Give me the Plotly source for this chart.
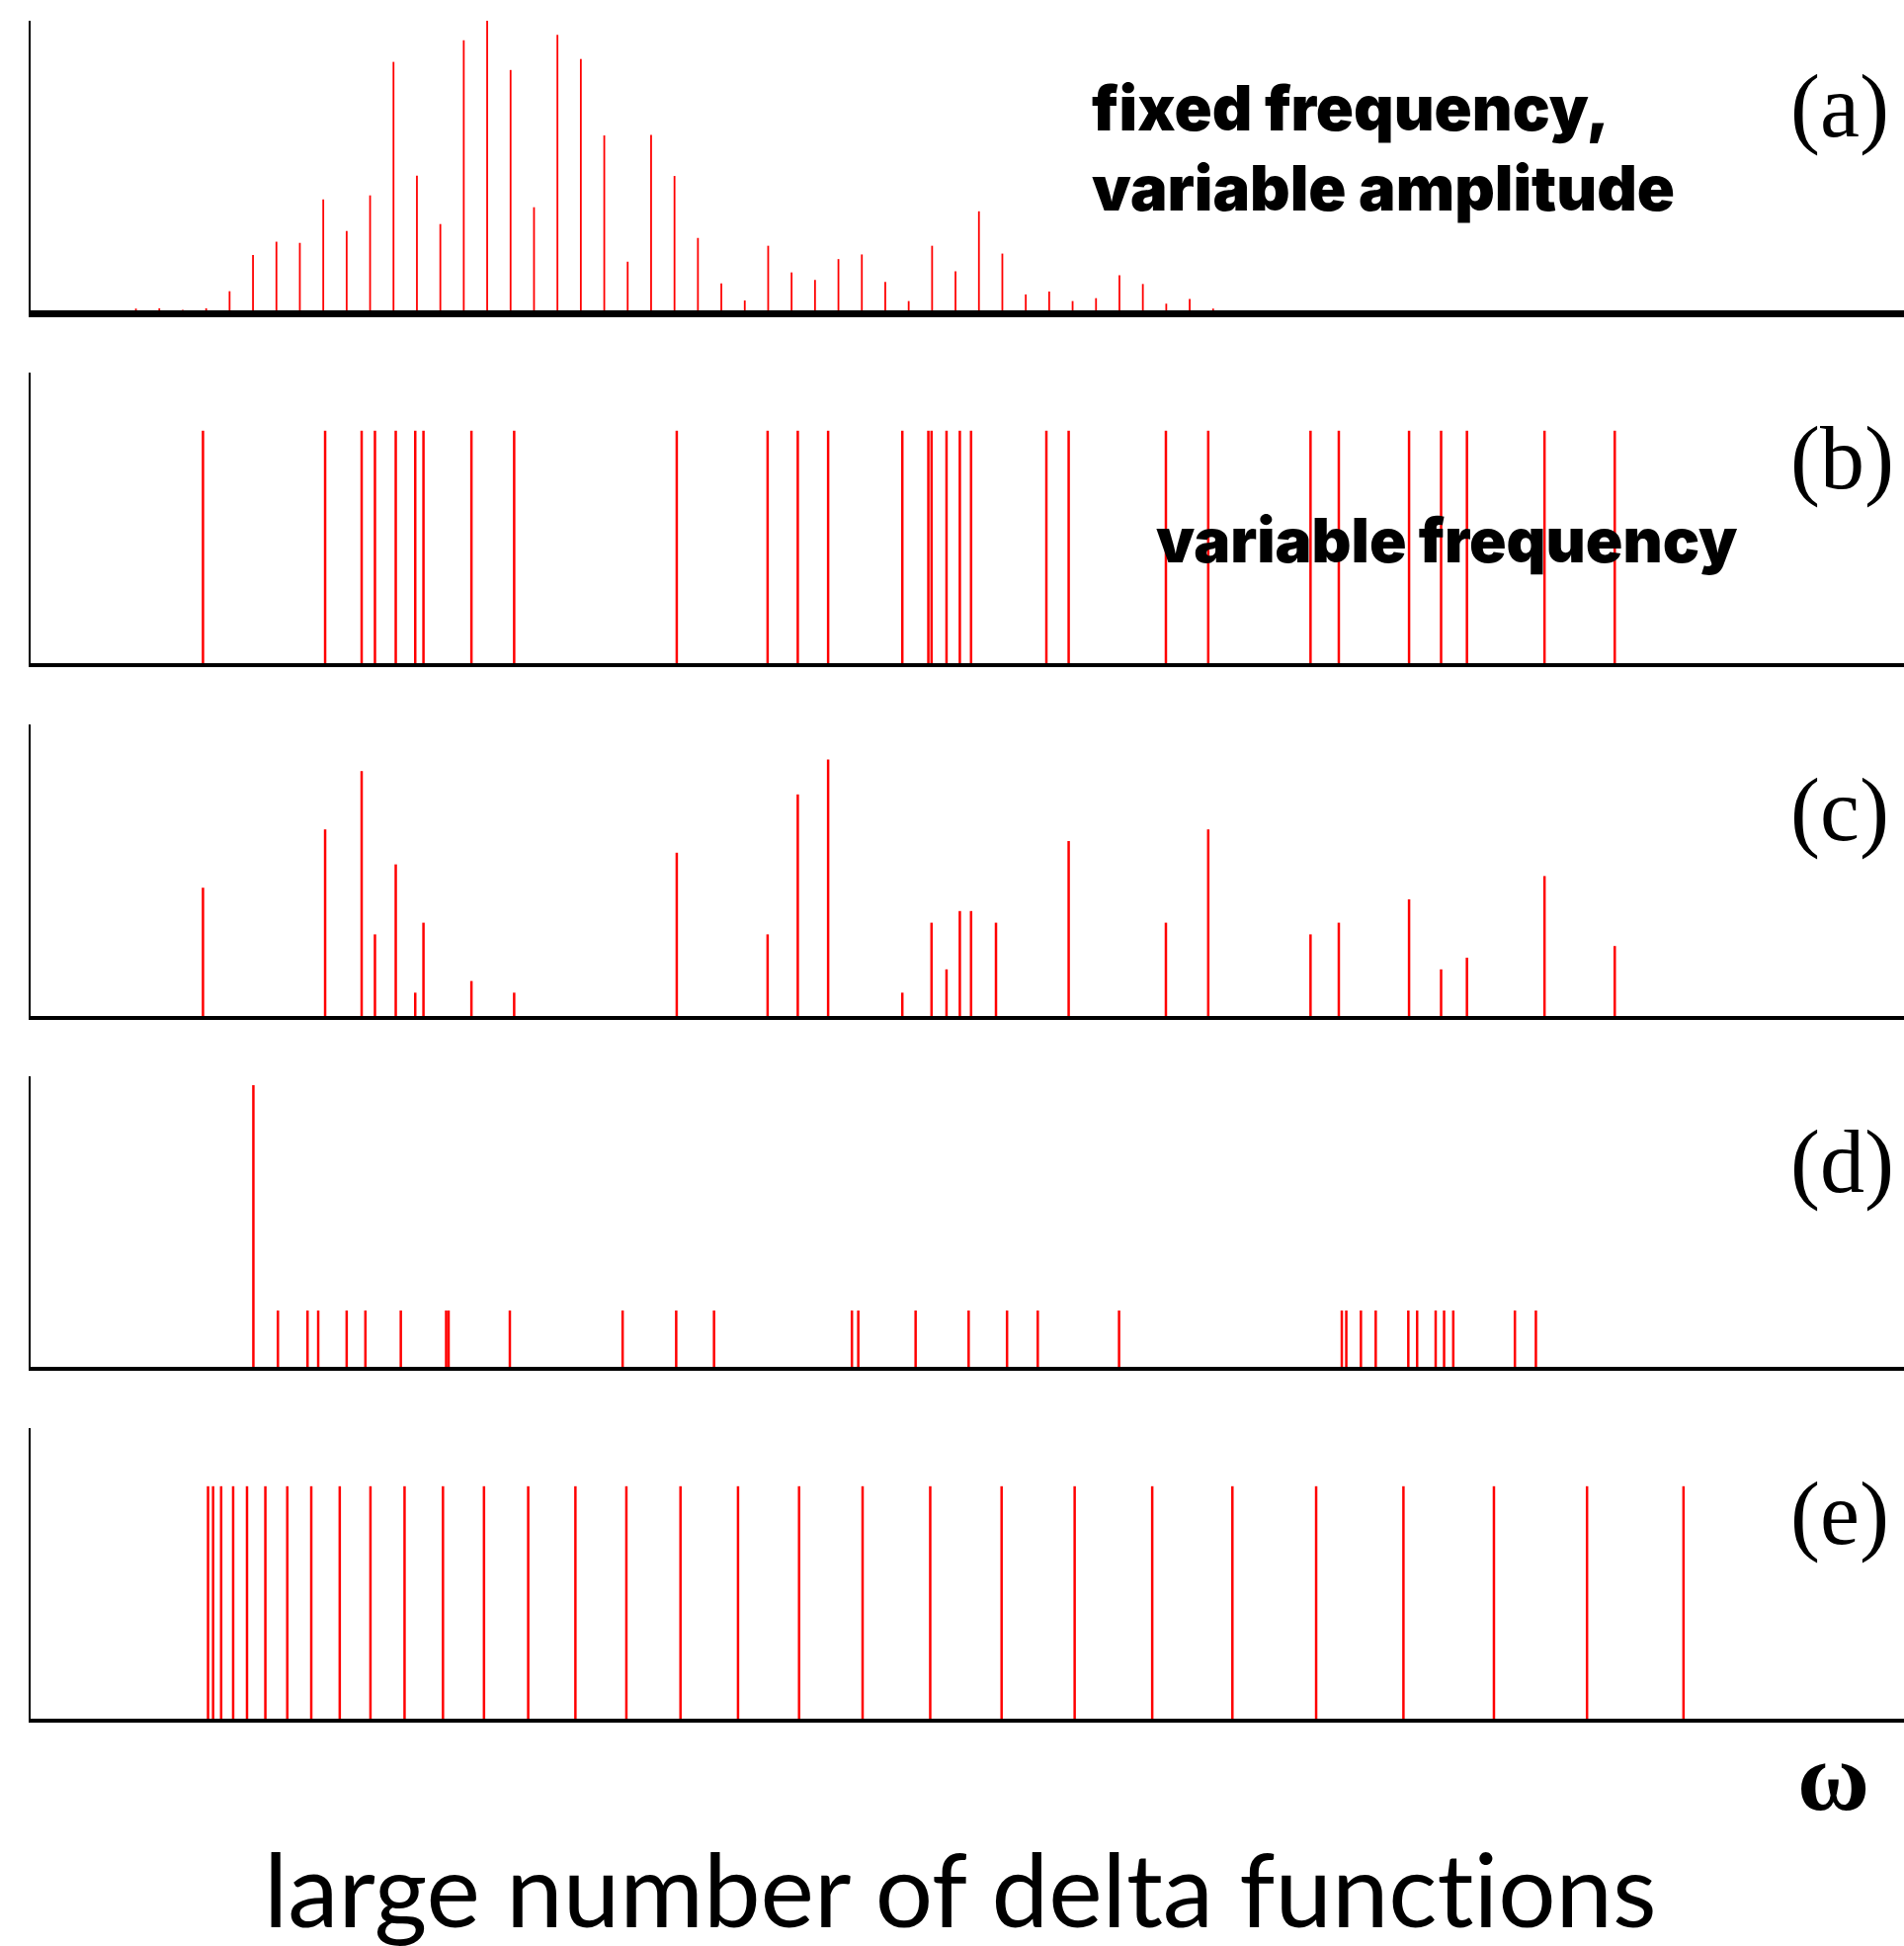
import plotly.graph_objects as go

W, H = 1927, 1969

# ---------------- data (omega on a 0..100 axis) ----------------
# (a) fixed frequency, variable amplitude
omega_a = [5.62, 6.87, 8.12, 9.37, 10.62, 11.87, 13.12, 14.37, 15.62, 16.87,
           18.12, 19.37, 20.62, 21.87, 23.12, 24.37, 25.62, 26.87, 28.12, 29.37,
           30.62, 31.87, 33.12, 34.37, 35.62, 36.87, 38.12, 39.37, 40.62, 41.87,
           43.12, 44.37, 45.62, 46.87, 48.12, 49.37, 50.62, 51.87, 53.12, 54.37,
           55.62, 56.87, 58.12, 59.37, 60.62, 61.87, 63.12]
amp_a = [0.006, 0.007, 0.002, 0.007, 0.066, 0.191, 0.237, 0.233, 0.383, 0.274,
         0.397, 0.858, 0.465, 0.298, 0.933, 1.0, 0.830, 0.356, 0.951, 0.868,
         0.604, 0.168, 0.606, 0.464, 0.250, 0.093, 0.034, 0.223, 0.131, 0.105,
         0.177, 0.193, 0.098, 0.032, 0.223, 0.135, 0.342, 0.196, 0.055, 0.065,
         0.032, 0.042, 0.121, 0.091, 0.023, 0.039, 0.006]

# (b) variable frequency, equal amplitude
omega_b = [9.20, 15.72, 17.67, 18.38, 19.49, 20.53, 20.97, 23.53, 25.81, 34.49,
           39.34, 40.95, 42.57, 46.53, 47.92, 48.09, 48.89, 49.60, 50.20, 54.22,
           55.41, 60.60, 62.86, 68.32, 69.83, 73.58, 75.29, 76.67, 80.81, 84.56]
amp_b = [1] * len(omega_b)

# (c) variable frequency, variable amplitude
omega_c = [9.20, 15.72, 17.67, 18.38, 19.49, 20.53, 20.97, 23.53, 25.81, 34.49,
           39.34, 40.95, 42.57, 46.53, 48.09, 48.89, 49.60, 50.20, 51.53, 55.41,
           60.60, 62.86, 68.32, 69.83, 73.58, 75.29, 76.67, 80.81, 84.56]
amp_c = [11, 16, 21, 7, 13, 2, 8, 3, 2, 14,
         7, 19, 22, 2, 8, 4, 9, 9, 8, 15,
         8, 16, 7, 8, 10, 4, 5, 12, 6]

# (d) one strong line and many weak ones
omega_d = [11.89, 13.20, 14.78, 15.35, 16.87, 17.87, 19.76, 22.18, 22.31, 25.58,
           31.60, 34.46, 36.48, 43.84, 44.18, 47.24, 50.07, 52.12, 53.76, 58.10,
           69.99, 70.23, 71.01, 71.80, 73.54, 74.01, 75.00, 75.45, 75.94, 79.23,
           80.35]
amp_d = [5] + [1] * (len(omega_d) - 1)

# (e) many equal lines
omega_e = [9.47, 9.74, 10.17, 10.81, 11.55, 12.53, 13.70, 14.98, 16.50, 18.14,
           19.96, 22.01, 24.20, 26.56, 29.08, 31.80, 34.69, 37.76, 41.02, 44.41,
           48.02, 51.83, 55.73, 59.87, 64.15, 68.62, 73.28, 78.11, 83.08, 88.23]
amp_e = [1] * len(omega_e)

panel_labels = ["(a)", "(b)", "(c)", "(d)", "(e)"]

# ---------------- layout helpers ----------------
def px_x(p):
    return p / W

def px_y(p):
    return 1 - p / H

panels = [
    dict(x=omega_a, y=amp_a, top=21, bottom=314, ymax=1.0, lw=1.8, axw=7),
    dict(x=omega_b, y=amp_b, top=377, bottom=671, ymax=1.25, lw=2.5, axw=3.5),
    dict(x=omega_c, y=amp_c, top=733, bottom=1028, ymax=25.0, lw=2.5, axw=3.5),
    dict(x=omega_d, y=amp_d, top=1089, bottom=1383, ymax=5.16, lw=2.5, axw=3.5),
    dict(x=omega_e, y=amp_e, top=1445, bottom=1739, ymax=1.25, lw=2.5, axw=3.5),
]

fig = go.Figure()
layout = dict(
    width=W, height=H, autosize=False,
    margin=dict(l=0, r=0, t=0, b=0),
    paper_bgcolor="white", plot_bgcolor="white",
    showlegend=False,
)

annotations = []
for i, p in enumerate(panels):
    n = "" if i == 0 else str(i + 1)
    xs, ys = [], []
    for xv, yv in zip(p["x"], p["y"]):
        xs += [xv, xv, None]
        ys += [0, yv, None]
    fig.add_trace(go.Scatter(
        x=xs, y=ys, mode="lines",
        line=dict(color="#ff0000", width=p["lw"]),
        xaxis="x" + n, yaxis="y" + n, hoverinfo="skip",
    ))
    layout["xaxis" + n] = dict(
        domain=[px_x(31), 1.0], range=[0, 100], anchor="y" + n,
        showline=True, linecolor="black", linewidth=p["axw"],
        showgrid=False, zeroline=False, showticklabels=False, ticks="",
    )
    layout["yaxis" + n] = dict(
        domain=[px_y(p["bottom"]), px_y(p["top"])], range=[0, p["ymax"]],
        anchor="x" + n,
        showline=True, linecolor="black", linewidth=2,
        showgrid=False, zeroline=False, showticklabels=False, ticks="",
    )
    annotations.append(dict(
        text=panel_labels[i], xref="paper", yref="paper",
        x=px_x(1810), y=px_y(p["top"] + 87), xanchor="left", yanchor="middle",
        showarrow=False,
        font=dict(family="Liberation Serif", size=90, color="black"),
    ))

bold = dict(family="Inter", size=63, color="black", weight=900)
annotations += [
    dict(text="fixed frequency,", xref="paper", yref="paper",
         x=px_x(1103), y=px_y(109), xanchor="left", yanchor="middle",
         showarrow=False, font=bold),
    dict(text="variable amplitude", xref="paper", yref="paper",
         x=px_x(1103), y=px_y(190), xanchor="left", yanchor="middle",
         showarrow=False, font=bold),
    dict(text="variable frequency", xref="paper", yref="paper",
         x=px_x(1168), y=px_y(546), xanchor="left", yanchor="middle",
         showarrow=False, font=dict(family="Inter", size=62, color="black", weight=900)),
    dict(text="ω", xref="paper", yref="paper",
         x=px_x(1855), y=px_y(1797), xanchor="center", yanchor="middle",
         showarrow=False,
         font=dict(family="Liberation Serif", size=100, color="black", weight=700)),
    dict(text="large number of delta funct\u200cions", xref="paper", yref="paper",
         x=px_x(972), y=px_y(1910), xanchor="center", yanchor="middle",
         showarrow=False,
         font=dict(family="Lato", size=103, color="black")),
]
layout["annotations"] = annotations
fig.update_layout(**layout)

fig.write_html("out.html")
